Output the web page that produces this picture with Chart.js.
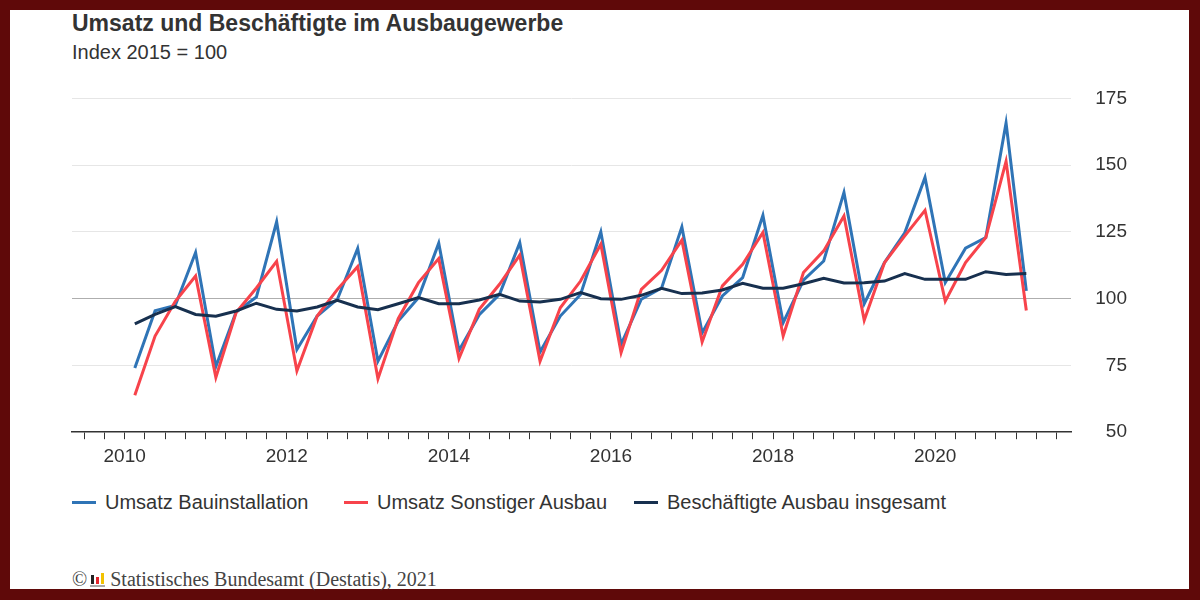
<!DOCTYPE html>
<html>
<head>
<meta charset="utf-8">
<script src="https://cdn.jsdelivr.net/npm/chart.js@4"></script>
<style>
  body { margin: 0; }
  #page { position: relative; width: 1200px; height: 600px; background: #5f0909; overflow: hidden; font-family: "Liberation Sans", Arial, sans-serif; color: #333; }
  #sheet { position: absolute; left: 10px; top: 10px; width: 1179px; height: 579px; background: #fff; }
  .txt { position: absolute; white-space: nowrap; line-height: 20px; }
  #title { left: 72px; top: 13px; font-size: 23px; font-weight: bold; }
  #subtitle { left: 72px; top: 42px; font-size: 20px; }
  #legend { left: 72px; top: 492px; font-size: 20px; }
  .item { position: absolute; top: 0; white-space: nowrap; }
  .swatch { position: absolute; left: 0; top: 9px; width: 24px; height: 3px; }
  .item span.lbl { position: absolute; left: 33px; top: 0; }
  #source { left: 72px; top: 569px; font-family: "Liberation Serif", "Times New Roman", serif; font-size: 20px; color: #444; }
  .logo { display: inline-block; position: relative; width: 16px; height: 16px; margin: 0 4px 0 3px; vertical-align: -1px; }
  .logo i { position: absolute; bottom: 3px; width: 3px; }
  #chartBox { position: absolute; left: 60px; top: 75px; width: 1080px; height: 399px; }
</style>
</head>
<body>
<div id="page">
  <div id="sheet"></div>
  <div id="title" class="txt">Umsatz und Beschäftigte im Ausbaugewerbe</div>
  <div id="subtitle" class="txt">Index 2015 = 100</div>
  <div id="chartBox"><canvas id="chart"></canvas></div>
  <div id="legend" class="txt"></div>
  <div id="source" class="txt">©<span class="logo"><i style="left:1px;height:9px;background:#222"></i><i style="left:6px;height:7px;background:#e3262d"></i><i style="left:11px;height:11px;background:#f2c200"></i><i style="left:0;bottom:0;width:15px;height:2px;background:#aaa"></i></span>Statistisches Bundesamt (Destatis), 2021</div>
</div>
<script>
// quarters 2010-Q1 .. 2021-Q1
const quarters = [
  '2010-Q1','2010-Q2','2010-Q3','2010-Q4',
  '2011-Q1','2011-Q2','2011-Q3','2011-Q4',
  '2012-Q1','2012-Q2','2012-Q3','2012-Q4',
  '2013-Q1','2013-Q2','2013-Q3','2013-Q4',
  '2014-Q1','2014-Q2','2014-Q3','2014-Q4',
  '2015-Q1','2015-Q2','2015-Q3','2015-Q4',
  '2016-Q1','2016-Q2','2016-Q3','2016-Q4',
  '2017-Q1','2017-Q2','2017-Q3','2017-Q4',
  '2018-Q1','2018-Q2','2018-Q3','2018-Q4',
  '2019-Q1','2019-Q2','2019-Q3','2019-Q4',
  '2020-Q1','2020-Q2','2020-Q3','2020-Q4',
  '2021-Q1'
];

const umsatzBauinstallation = [
  74, 95.5, 97.5, 117.3,
  74.6, 95, 100.6, 128.8,
  81, 93.5, 99.8, 118.8,
  76.6, 91.6, 100.4, 120.8,
  80.6, 94, 101.6, 121,
  80, 93.5, 101.6, 125,
  82.9, 99.8, 104, 126.9,
  87.2, 101, 107.9, 131.2,
  91, 106.9, 114.1, 139.8,
  98.1, 113.5, 124.7, 145.4,
  106, 118.9, 122.9, 165.8,
  102.9
];

const umsatzSonstigerAusbau = [
  63.8, 86, 99, 108.5,
  70.5, 94.8, 104, 114,
  73, 93.5, 103.5, 112,
  70, 92.5, 106, 115,
  77.6, 96, 105.4, 116.3,
  76.6, 96.6, 106.6, 120.4,
  79.8, 103.5, 110.6, 121.9,
  83.8, 104.8, 112.9, 124.8,
  86, 109.8, 117.9, 131,
  91.9, 113.5, 123.5, 133.1,
  99.1, 113.5, 122.9, 151.4,
  95.6
];

const beschaeftigteAusbau = [
  90.6, 94.1, 97, 94.1,
  93.4, 95.4, 98.3, 96,
  95.4, 96.9, 99.4, 96.9,
  95.9, 98.1, 100.4, 98.1,
  98.1, 99.5, 101.6, 99.1,
  98.75, 99.75, 102.25, 100,
  99.75, 101.25, 103.9, 101.9,
  102.1, 103.25, 105.75, 103.9,
  103.9, 105.6, 107.6, 105.9,
  106, 106.6, 109.4, 107.25,
  107.25, 107.25, 110.1, 109.1,
  109.4
];

const yearLabels = [2010, 2012, 2014, 2016, 2018, 2020];
const yTicks = [50, 75, 100, 125, 150, 175];

const seriesNames = ['Umsatz Bauinstallation', 'Umsatz Sonstiger Ausbau', 'Beschäftigte Ausbau insgesamt'];
const seriesColors = ['#2f74b6', '#f7434b', '#17304f'];

// mid-quarter position on a decimal year axis
function quarterToX(q) {
    const year = parseInt(q.slice(0, 4));
    const n = parseInt(q.slice(6));
    return year + (n - 1) * 0.25 + 0.125;
}

function toPoints(values) {
    return values.map((v, i) => ({ x: quarterToX(quarters[i]), y: v }));
}

const allSeries = [umsatzBauinstallation, umsatzSonstigerAusbau, beschaeftigteAusbau];
const drawOrder = [2, 1, 0]; // dark line on top, then red, then blue

const datasets = allSeries.map((values, i) => ({
    label: seriesNames[i],
    data: toPoints(values),
    borderColor: seriesColors[i],
    backgroundColor: seriesColors[i],
    borderWidth: 3,
    pointRadius: 0,
    tension: 0,
    order: drawOrder[i]
}));

// legend as html
const legend = document.getElementById('legend');
const legendOffsets = [0, 272, 562];
seriesNames.forEach((name, i) => {
    const item = document.createElement('div');
    item.className = 'item';
    item.style.left = legendOffsets[i] + 'px';
    item.innerHTML = '<span class="swatch" style="background:' + seriesColors[i] + '"></span><span class="lbl">' + name + '</span>';
    legend.appendChild(item);
});

const ctx = document.getElementById('chart').getContext('2d');
new Chart(ctx, {
    type: 'line',
    data: { datasets: datasets },
    options: {
        responsive: true,
        maintainAspectRatio: false,
        animation: false,
        events: [],
        layout: { padding: { left: 12, top: 0, right: 13, bottom: 0 } },
        plugins: {
            legend: { display: false },
            tooltip: { enabled: false }
        },
        scales: {
            x: {
                type: 'linear',
                min: 2009.35,
                max: 2021.68,
                border: { display: true, color: '#333', width: 1.5 },
                grid: {
                    display: true,
                    drawOnChartArea: false,
                    drawTicks: true,
                    tickLength: 7,
                    tickColor: '#333',
                    tickWidth: 1
                },
                ticks: {
                    stepSize: 0.25,
                    includeBounds: false,
                    autoSkip: false,
                    maxTicksLimit: 200,
                    maxRotation: 0,
                    padding: 6,
                    color: '#333',
                    font: { family: 'Liberation Sans', size: 19 },
                    callback: function (value) {
                        return yearLabels.includes(value) ? String(value) : '';
                    }
                }
            },
            y: {
                position: 'right',
                min: yTicks[0],
                max: yTicks[yTicks.length - 1],
                border: { display: false },
                afterBuildTicks: function (axis) {
                    axis.ticks = yTicks.map(v => ({ value: v }));
                },
                grid: {
                    drawTicks: false,
                    lineWidth: 1,
                    color: function (c) {
                        if (c.tick.value === 100) return '#aeaeae';
                        if (c.tick.value === 50) return 'rgba(0,0,0,0)';
                        return '#e6e6e6';
                    }
                },
                ticks: {
                    padding: 12,
                    crossAlign: 'far',
                    color: '#333',
                    font: { family: 'Liberation Sans', size: 19 }
                }
            }
        }
    }
});
</script>
</body>
</html>
